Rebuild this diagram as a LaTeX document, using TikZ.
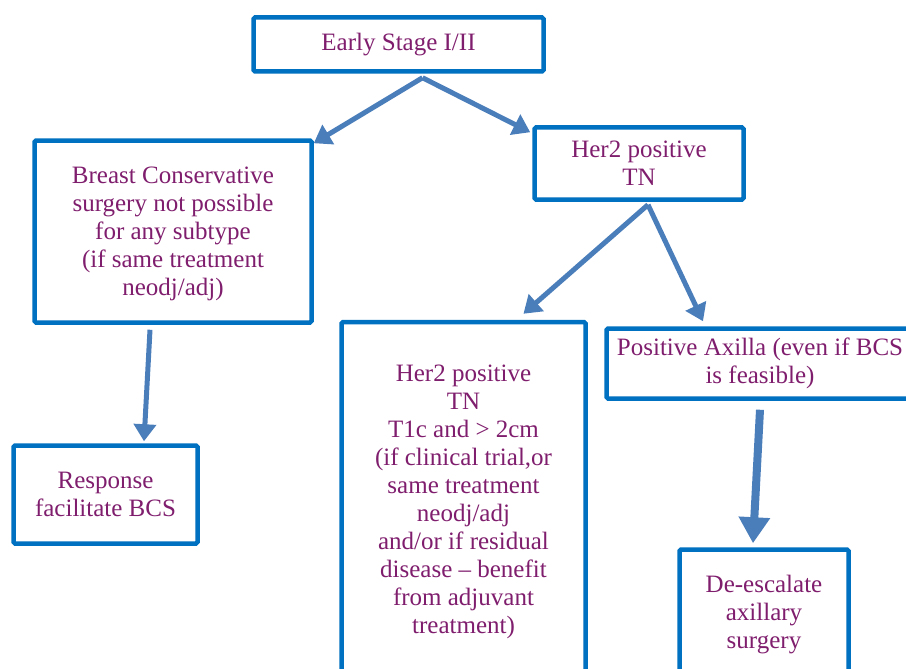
\documentclass[tikz,border=0pt]{standalone}
\usepackage{fontspec}
\setmainfont{Liberation Serif}
\usetikzlibrary{arrows.meta}
\definecolor{boxblue}{RGB}{0,112,192}
\definecolor{arrowblue}{RGB}{74,126,187}
\definecolor{txtpurple}{RGB}{128,30,110}

\begin{document}
\begin{tikzpicture}[x=1pt,y=-1pt,
 stagebox/.style={draw=boxblue,line width=4.5pt,rounded corners=1.5pt,fill=white,text=txtpurple,align=center,inner sep=0pt,font=\fontsize{25}{28}\selectfont},
 flow/.style={draw=arrowblue,line width=5pt,-{Triangle[length=17pt,width=22pt]}},
 bigflow/.style={flow,line width=8pt,-{Triangle[length=26pt,width=30pt]}}]
 \useasboundingbox (0,0) rectangle (906,669);
 \clip (0,0) rectangle (906,669);
 \node[stagebox,minimum width=290pt,minimum height=54pt] (stage) at (398.5,44.5) {Early Stage I/II};
 \node[stagebox,minimum width=277pt,minimum height=182pt,text depth=-6pt] (bcs) at (173,231.5) {Breast Conservative\\surgery not possible\\for any subtype\\(if same treatment\\neodj/adj)};
 \node[stagebox,minimum width=209pt,minimum height=72pt,text depth=-6pt] (her2) at (639,163.5) {Her2 positive\\TN};
 \node[stagebox,minimum width=184pt,minimum height=98pt] (resp) at (105.5,494.5) {Response\\facilitate BCS};
 \node[stagebox,minimum width=244pt,minimum height=360pt] (trial) at (463.5,502) {Her2 positive\\TN\\T1c and > 2cm\\(if clinical trial,or\\same treatment\\neodj/adj\\and/or if residual\\disease -- benefit\\from adjuvant\\treatment)};
 \node[stagebox,minimum width=307pt,minimum height=70pt] (axilla) at (760,363.5) {Positive Axilla (even if BCS\\is feasible)};
 \node[stagebox,minimum width=169pt,minimum height=130pt] (deesc) at (764,614.5) {De-escalate\\axillary\\surgery};
 % arrows
 \draw[flow] ([xshift=24pt,yshift=-4pt]stage.south) -- ([yshift=-5pt]bcs.north east);
 \draw[flow] ([xshift=24pt,yshift=-4pt]stage.south) -- ([xshift=-2pt,yshift=-7pt]her2.north west);
 \draw[flow] ([xshift=9pt,yshift=-3pt]her2.south) -- ([xshift=60pt,yshift=6pt]trial.north);
 \draw[flow] ([xshift=9pt,yshift=-3pt]her2.south) -- ([xshift=-57pt,yshift=5pt]axilla.north);
 \draw[flow] ([xshift=-23pt,yshift=-5pt]bcs.south) -- ([xshift=38.5pt,yshift=2pt]resp.north);
 \draw[bigflow] ([yshift=-9pt]axilla.south) -- ([xshift=-11pt,yshift=4pt]deesc.north);
\end{tikzpicture}
\end{document}
